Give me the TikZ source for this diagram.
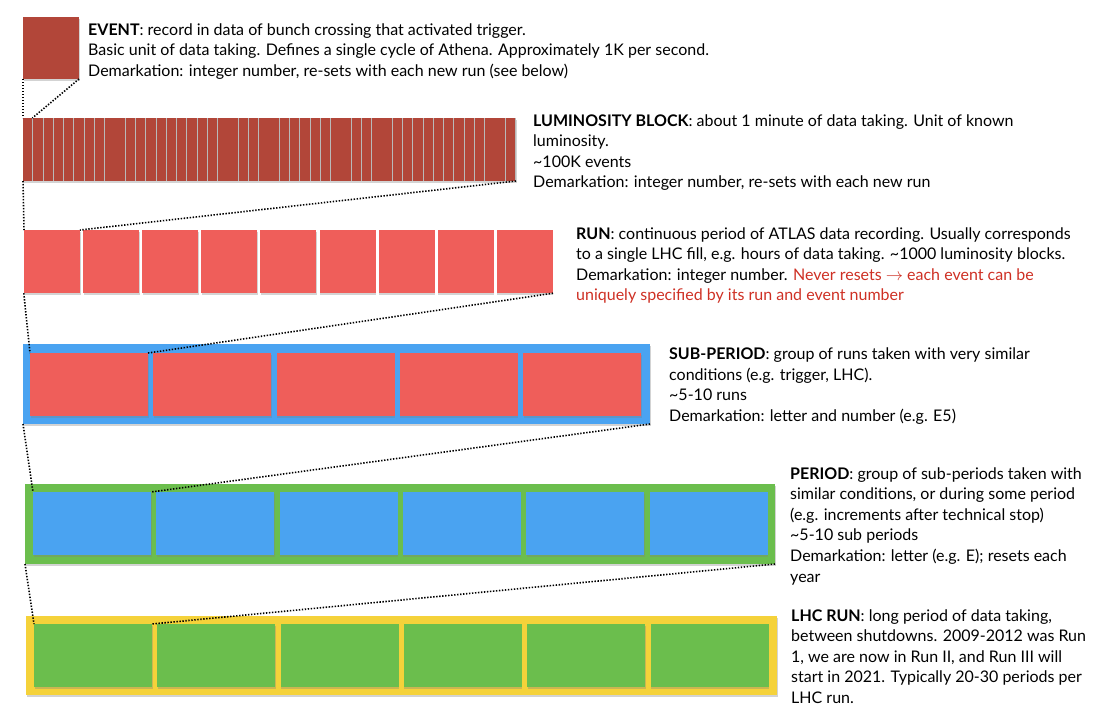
\documentclass[tikz,border=0pt]{standalone}
\usepackage{fontspec}
\setmainfont{Lato}
\usetikzlibrary{positioning,shapes,arrows,fit,shadows}
\definecolor{brick}{RGB}{178,70,57}
\definecolor{runred}{RGB}{239,94,90}
\definecolor{subblue}{RGB}{74,163,241}
\definecolor{pergreen}{RGB}{107,190,77}
\definecolor{lhcyellow}{RGB}{245,210,58}
\definecolor{alertred}{RGB}{206,48,36}

\begin{document}
\begin{tikzpicture}[x=1pt,y=-1pt]
	\tikzset{plain box/.style={rectangle, inner sep=0pt, outer sep=0pt, anchor=north west},
	  box style/.style={plain box, drop shadow={shadow xshift=0.5pt, shadow yshift=-2pt, opacity=0.35}},
	  cell style/.style={box style, minimum width=118, minimum height=63},
	  zoom line/.style={line width=1.6pt, dash pattern=on 1.4pt off 1.6pt},
	  text style/.style={anchor=base west, align=left, inner sep=0pt, font=\fontsize{16}{20.6}\selectfont}}
	\useasboundingbox (0,0) rectangle (1100,715);
	\node[box style, fill=brick, minimum width=56, minimum height=62] (event) at (23,17) {};
	\node[box style, fill=gray!55, minimum width=493, minimum height=63] (lumi) at (23,118) {};
	\foreach \i in {1,...,48}
	  \node[plain box, fill=brick, minimum width=9.4, minimum height=63] (lumi\i) at ({23+(\i-1)*10.27},118) {};
	\foreach \i in {1,...,9}
	  \node[box style, fill=runred, minimum width=56, minimum height=63] (run\i) at ({24+(\i-1)*59.1},230) {};
	\node[fit=(run1)(run9), inner sep=0pt] (run) {};
	\node[box style, fill=subblue, minimum width=627, minimum height=80] (sub) at (23,344) {};
	\foreach \i in {1,...,5}
	  \node[cell style, fill=runred] (sub\i) at ({30+(\i-1)*123.3},353) {};
	\node[box style, fill=pergreen, minimum width=750, minimum height=80] (period) at (25,484) {};
	\foreach \i in {1,...,6}
	  \node[cell style, fill=subblue] (per\i) at ({33+(\i-1)*123.3},492) {};
	\node[box style, fill=lhcyellow, minimum width=751, minimum height=79] (lhc) at (26,616) {};
	\foreach \i in {1,...,6}
	  \node[cell style, fill=pergreen] (lhcp\i) at ({34+(\i-1)*123.3},624) {};
	\draw[zoom line] (event.south west) -- (lumi1.north west);
	\draw[zoom line] (event.south east) -- (lumi1.north east);
	\draw[zoom line] (lumi.south west) -- (run1.north west);
	\draw[zoom line] (lumi.south east) -- (run1.north east);
	\draw[zoom line] (run.south west) -- (sub1.north west);
	\draw[zoom line] (run.south east) -- (sub1.north east);
	\draw[zoom line] (sub.south west) -- (per1.north west);
	\draw[zoom line] (sub.south east) -- (per1.north east);
	\draw[zoom line] (period.south west) -- (lhcp1.north west);
	\draw[zoom line] (period.south east) -- (lhcp1.north east);
	\node[text style] (eventtxt) at (88,76.2) {\textbf{EVENT}: record in data of bunch crossing that activated trigger.\\
	  Basic unit of data taking. Defines a single cycle of Athena. Approximately 1K per second.\\
	  Demarkation: integer number, re-sets with each new run (see below)};
	\node[text style] (lumitxt) at (533,187.8) {\textbf{LUMINOSITY BLOCK}: about 1 minute of data taking. Unit of known\\
	  luminosity.\\
	  \textasciitilde100K events\\
	  Demarkation: integer number, re-sets with each new run};
	\node[text style] (runtxt) at (576,300.8) {\textbf{RUN}: continuous period of ATLAS data recording. Usually corresponds\\
	  to a single LHC fill, e.g. hours of data taking. \textasciitilde1000 luminosity blocks.\\
	  Demarkation: integer number. {\color{alertred}Never resets $\rightarrow$ each event can be}\\
	  {\color{alertred}uniquely specified by its run and event number}};
	\node[text style] (subtxt) at (669,421.5) {\textbf{SUB-PERIOD}: group of runs taken with very similar\\
	  conditions (e.g. trigger, LHC).\\
	  \textasciitilde5-10 runs\\
	  Demarkation: letter and number (e.g. E5)};
	\node[text style] (pertxt) at (790,582) {\textbf{PERIOD}: group of sub-periods taken with\\
	  similar conditions, or during some period\\
	  (e.g. increments after technical stop)\\
	  \textasciitilde5-10 sub periods\\
	  Demarkation: letter (e.g. E); resets each\\
	  year};
	\node[text style] (lhctxt) at (791,703.4) {\textbf{LHC RUN}: long period of data taking,\\
	  between shutdowns. 2009-2012 was Run\\
	  1, we are now in Run II, and Run III will\\
	  start in 2021. Typically 20-30 periods per\\
	  LHC run.};
\end{tikzpicture}
\end{document}
